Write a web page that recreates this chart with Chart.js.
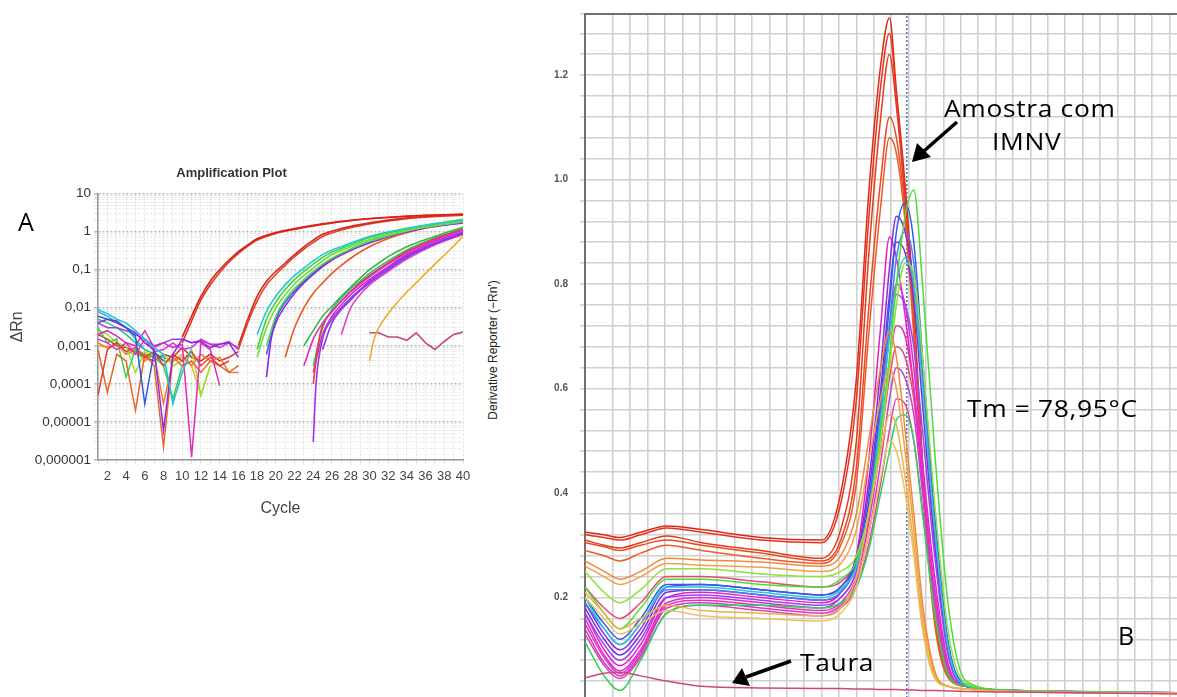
<!DOCTYPE html>
<html>
<head>
<meta charset="utf-8">
<script src="https://cdn.jsdelivr.net/npm/chart.js@4.4.1/dist/chart.umd.min.js"></script>
<style>
    html, body { margin: 0; padding: 0; width: 1177px; height: 697px; overflow: hidden; background: #fff; }
    canvas { position: absolute; }
    #ampChart { left: 0; top: 150px; }
    #meltChart { left: 530px; top: 0; }
    .lbl { position: absolute; font-family: "Open Sans", sans-serif; color: #000; white-space: nowrap; line-height: 1; }
    .note { font-size: 24px; letter-spacing: 0.6px; transform: scaleX(1.1); transform-origin: left center; }
    .side { position: absolute; left: 493px; top: 350px; transform: translate(-50%, -50%) rotate(-90deg);
            font-family: "Liberation Sans", Arial, sans-serif; font-size: 12px; color: #222; white-space: nowrap; }
    svg { position: absolute; left: 0; top: 0; }
</style>
</head>
<body>
<canvas id="ampChart" width="480" height="370"></canvas>
<canvas id="meltChart" width="732" height="704"></canvas>

<div class="lbl" style="left:18px; top:209px; font-size:25px;">A</div>
<div class="side">Derivative Reporter (−Rn')</div>
<div class="lbl note" style="left:944px; top:96px;">Amostra com</div>
<div class="lbl note" style="left:992px; top:129px;">IMNV</div>
<div class="lbl note" style="left:967px; top:396px;">Tm = 78,95°C</div>
<div class="lbl note" style="left:800px; top:650px;">Taura</div>
<div class="lbl" style="left:1118px; top:623px; font-size:25px;">B</div>

<svg width="1177" height="697">
    <line x1="957" y1="122" x2="924" y2="151" stroke="#000" stroke-width="3.5"/>
    <polygon points="912,162 917,143 931,157" fill="#000"/>
    <line x1="791" y1="661" x2="746" y2="677" stroke="#000" stroke-width="3.5"/>
    <polygon points="732,683 742,668 750,686" fill="#000"/>
</svg>

<script>
// Painel A - Amplification Plot (ciclo, ΔRn)
const yDecades = [0.000001, 0.00001, 0.0001, 0.001, 0.01, 0.1, 1, 10];
const yDecadeLabels = ['0,000001', '0,00001', '0,0001', '0,001', '0,01', '0,1', '1', '10'];

const ampRed1 = [[10,0.0017],[11,0.006],[12,0.02],[13,0.05],[14,0.1],[15,0.18],[16,0.3],[17,0.45],[18,0.65],[19,0.8],[20,0.95],[22,1.2],[25,1.6],[28,2.0],[32,2.4],[36,2.7],[40,2.9]];
const ampRed2 = [[10,0.0012],[11,0.0045],[12,0.016],[13,0.04],[14,0.085],[15,0.16],[16,0.27],[17,0.42],[18,0.6],[19,0.75],[20,0.9],[22,1.15],[25,1.55],[28,1.95],[32,2.35],[36,2.65],[40,2.8]];
const ampRed3 = [[16,0.001],[17,0.005],[18,0.02],[19,0.05],[20,0.09],[21,0.15],[22,0.25],[23,0.4],[24,0.6],[25,0.85],[27,1.2],[30,1.7],[34,2.3],[37,2.6],[40,2.8]];
const ampRed4 = [[16,0.0008],[17,0.004],[18,0.015],[19,0.04],[20,0.075],[21,0.13],[22,0.22],[23,0.35],[24,0.52],[25,0.75],[27,1.1],[30,1.6],[34,2.2],[37,2.5],[40,2.7]];
const ampCyan = [[18,0.002],[19,0.008],[20,0.02],[21,0.04],[22,0.07],[23,0.11],[24,0.17],[25,0.25],[26,0.33],[28,0.5],[30,0.75],[33,1.1],[36,1.5],[40,2.0]];
const ampGreen1 = [[18,0.0008],[19,0.005],[20,0.014],[21,0.03],[22,0.055],[23,0.09],[24,0.14],[25,0.21],[26,0.29],[28,0.45],[30,0.7],[33,1.05],[36,1.45],[40,2.1]];
const ampGreen2 = [[18,0.0005],[19,0.003],[20,0.01],[21,0.022],[22,0.042],[23,0.07],[24,0.11],[25,0.17],[26,0.25],[28,0.4],[30,0.62],[33,0.95],[36,1.35],[40,1.9]];
const ampGreen3 = [[19,0.001],[20,0.006],[21,0.016],[22,0.032],[23,0.055],[24,0.09],[25,0.14],[26,0.2],[28,0.35],[30,0.55],[33,0.9],[36,1.3],[40,1.8]];
const ampPurple1 = [[19,0.00015],[19.5,0.0015],[20,0.004],[21,0.011],[22,0.024],[23,0.045],[24,0.075],[25,0.12],[26,0.18],[28,0.32],[30,0.5],[33,0.85],[36,1.25],[40,1.7]];
const ampBlue = [[19,0.0006],[20,0.005],[21,0.014],[22,0.028],[23,0.05],[24,0.08],[25,0.13],[26,0.19],[28,0.34],[30,0.55],[33,0.9],[36,1.3],[40,1.75]];
const ampOrange = [[21,0.0005],[22,0.003],[23,0.01],[24,0.024],[25,0.045],[26,0.08],[27,0.13],[28,0.2],[30,0.4],[33,0.8],[36,1.25],[40,1.9]];
const ampGreen4 = [[23,0.001],[24,0.0025],[25,0.006],[26,0.011],[27,0.02],[28,0.035],[29,0.06],[30,0.1],[31,0.15],[32,0.22],[34,0.4],[37,0.75],[40,1.3]];
const ampMagenta1 = [[23,0.0003],[24,0.0015],[25,0.004],[26,0.008],[27,0.015],[28,0.026],[29,0.042],[30,0.065],[32,0.14],[34,0.28],[37,0.6],[40,1.1]];
const ampPurple2 = [[24,0.000003],[24.3,0.0001],[25,0.0015],[26,0.005],[27,0.01],[28,0.018],[29,0.03],[30,0.05],[32,0.11],[34,0.23],[37,0.5],[40,0.95]];
const ampRed5 = [[24,0.0001],[24.5,0.001],[25,0.0035],[26,0.008],[27,0.015],[28,0.027],[29,0.045],[30,0.07],[32,0.15],[34,0.3],[37,0.65],[40,1.15]];
const ampMagenta2 = [[24,0.0002],[25,0.002],[26,0.006],[27,0.012],[28,0.022],[29,0.036],[30,0.056],[32,0.12],[34,0.25],[37,0.55],[40,1.0]];
const ampPurple3 = [[25,0.0008],[26,0.004],[27,0.009],[28,0.016],[29,0.028],[30,0.045],[32,0.1],[34,0.21],[37,0.48],[40,0.9]];
const ampGreen5 = [[24,0.0003],[25,0.003],[26,0.009],[27,0.018],[28,0.032],[29,0.05],[30,0.08],[32,0.17],[34,0.33],[37,0.68],[40,1.2]];
const ampMagenta3 = [[27,0.002],[28,0.01],[29,0.022],[30,0.04],[32,0.09],[34,0.19],[37,0.45],[40,0.85]];
const ampYellow = [[30,0.0004],[30.5,0.0015],[31,0.003],[32,0.007],[33,0.014],[34,0.026],[35,0.045],[36,0.08],[37,0.14],[38,0.24],[39,0.42],[40,0.75]];
const ampPink = [[30,0.0022],[31,0.0022],[32,0.0017],[33,0.0017],[34,0.0014],[35,0.0022],[36,0.0012],[37,0.0008],[38,0.0013],[39,0.002],[40,0.0023]];

// linha de base (ruído), a partir do ciclo 1
const noiseCyan = [0.009, 0.007, 0.005, 0.004, 0.0025, 0.0015, 0.0009, 0.0006, 0.00003, 0.0002, 0.0008];
const noiseBlue = [0.006, 0.005, 0.0045, 0.003, 0.0018, 0.00003, 0.0007, 0.0004];
const noisePurple = [0.004, 0.005, 0.004, 0.003, 0.0022, 0.0012, 0.0008, 0.000006, 0.0006, 0.0015, 0.0012, 0.0013, 0.0009, 0.0011, 0.0012, 0.0005];
const noiseMagenta = [0.002, 0.0025, 0.0018, 0.0012, 0.001, 0.0025, 0.0009, 0.0012, 0.0009, 0.0011, 0.0000012, 0.0012, 0.0008, 0.00009];
const noiseMagenta2 = [0.0015, 0.0012, 0.0008, 0.0012, 0.0006, 0.0015, 0.0007, 0.0008, 0.0012, 0.0008, 0.0009, 0.0015, 0.0011, 0.0009, 0.0012, 0.0009];
const noiseRed = [0.00005, 0.0008, 0.0012, 0.0007, 0.0009, 0.0005, 0.0007, 0.0003, 0.0006, 0.0004, 0.0007, 0.0003, 0.0005, 0.0003, 0.0004];
const noiseOrange = [0.0008, 0.00006, 0.0006, 0.0004, 0.00002, 0.0006, 0.0003, 0.0000022, 0.0005, 0.0003, 0.0004, 0.0002, 0.0004, 0.0003, 0.0002, 0.0003];
const noiseGreen = [0.003, 0.0012, 0.0015, 0.00015, 0.0008, 0.0006, 0.0005, 0.0003, 0.00004, 0.0003];
const noiseLime = [0.0025, 0.002, 0.0012, 0.001, 0.0002, 0.0007, 0.0005, 0.0006, 0.0003, 0.0004, 0.0008, 0.00005, 0.0003];
const noiseOrange2 = [0.0012, 0.0009, 0.0011, 0.0006, 0.0008, 0.0004, 0.0006, 0.00003, 0.0004, 0.0005, 0.0003, 0.0006, 0.0004, 0.0005, 0.0002, 0.0002];
const noiseRed2 = [0.002, 0.0015, 0.001, 0.0009, 0.0007, 0.0005, 0.0004, 0.0006, 0.0005, 0.0009, 0.0005, 0.0004, 0.0006, 0.0004, 0.0005, 0.0007];
const noiseCyan2 = [0.008, 0.006, 0.004, 0.003, 0.0015, 0.0008];
const noiseYellow = [0.001, 0.0009, 0.0012, 0.0007, 0.0006, 0.0005, 0.0006, 0.0004, 0.0004, 0.0006, 0.0003, 0.00005, 0.0003];
const noisePurple2 = [0.004, 0.003, 0.003, 0.0025, 0.002, 0.0015, 0.001, 0.0012, 0.0015, 0.0015, 0.0012, 0.0014, 0.0011, 0.0011, 0.0013, 0.0008];
const noiseGreen2 = [0.005, 0.004, 0.003, 0.002, 0.0012, 0.0008, 0.0006, 0.0005, 0.0004];

// Painel B - curva de melting (temperatura, -dF/dT)
const meltTemps = [69.7, 70.25, 70.7, 71.3, 72.05, 73.05, 74.75, 76.5, 77.05, 77.5, 77.85, 78.2, 78.45, 78.65, 78.9, 79.15, 79.4, 79.75, 80.15, 80.65, 81.95, 89.1];
const tmValue = 78.95;
const yLabelsB = [0.2, 0.4, 0.6, 0.8, 1.0, 1.2];

const meltRed1 = [0.325, 0.32, 0.315, 0.325, 0.337, 0.33, 0.315, 0.31, 0.4, 0.62, 0.97, 1.22, 1.31, 1.17, 0.99, 0.76, 0.46, 0.17, 0.05, 0.03, 0.022, 0.016];
const meltRed2 = [0.32, 0.315, 0.31, 0.32, 0.333, 0.325, 0.31, 0.305, 0.38, 0.58, 0.92, 1.18, 1.28, 1.16, 0.97, 0.74, 0.45, 0.16, 0.05, 0.03, 0.022, 0.016];
const meltRed3 = [0.31, 0.3, 0.295, 0.305, 0.318, 0.305, 0.29, 0.275, 0.33, 0.5, 0.85, 1.12, 1.24, 1.14, 0.96, 0.74, 0.45, 0.16, 0.05, 0.03, 0.022, 0.016];
const meltRed4 = [0.305, 0.297, 0.29, 0.3, 0.31, 0.3, 0.285, 0.27, 0.31, 0.45, 0.75, 1.0, 1.12, 1.08, 0.94, 0.72, 0.44, 0.16, 0.05, 0.03, 0.022, 0.016];
const meltRed5 = [0.29, 0.28, 0.27, 0.285, 0.3, 0.29, 0.275, 0.265, 0.3, 0.42, 0.7, 0.95, 1.08, 1.05, 0.92, 0.7, 0.42, 0.15, 0.045, 0.03, 0.022, 0.016];
const meltOrange1 = [0.27, 0.25, 0.235, 0.25, 0.275, 0.272, 0.268, 0.26, 0.28, 0.36, 0.5, 0.64, 0.71, 0.66, 0.52, 0.36, 0.19, 0.06, 0.03, 0.025, 0.02, 0.016];
const meltOrange2 = [0.26, 0.24, 0.225, 0.24, 0.265, 0.262, 0.258, 0.25, 0.265, 0.33, 0.46, 0.58, 0.64, 0.6, 0.48, 0.33, 0.17, 0.055, 0.03, 0.025, 0.02, 0.016];
const meltYellow1 = [0.21, 0.17, 0.14, 0.16, 0.185, 0.175, 0.17, 0.165, 0.18, 0.24, 0.36, 0.48, 0.55, 0.53, 0.43, 0.3, 0.15, 0.05, 0.03, 0.025, 0.02, 0.016];
const meltYellow2 = [0.2, 0.16, 0.13, 0.15, 0.175, 0.165, 0.16, 0.155, 0.17, 0.22, 0.32, 0.43, 0.5, 0.48, 0.4, 0.28, 0.14, 0.045, 0.03, 0.025, 0.02, 0.016];
const meltGreen1 = [0.22, 0.17, 0.14, 0.18, 0.235, 0.235, 0.225, 0.22, 0.235, 0.27, 0.36, 0.52, 0.66, 0.8, 0.93, 0.98, 0.8, 0.48, 0.18, 0.04, 0.022, 0.016];
const meltLime = [0.25, 0.21, 0.19, 0.215, 0.255, 0.255, 0.245, 0.24, 0.25, 0.28, 0.36, 0.5, 0.64, 0.76, 0.84, 0.82, 0.66, 0.38, 0.13, 0.035, 0.022, 0.016];
const meltGreen2 = [0.115, 0.05, 0.022, 0.08, 0.17, 0.185, 0.185, 0.18, 0.19, 0.22, 0.29, 0.4, 0.48, 0.54, 0.55, 0.5, 0.36, 0.17, 0.05, 0.03, 0.022, 0.016];
const meltBlue1 = [0.2, 0.15, 0.12, 0.16, 0.225, 0.225, 0.215, 0.205, 0.22, 0.27, 0.38, 0.58, 0.76, 0.9, 0.955, 0.88, 0.66, 0.36, 0.11, 0.035, 0.022, 0.016];
const meltBlue2 = [0.19, 0.14, 0.11, 0.15, 0.215, 0.215, 0.205, 0.195, 0.21, 0.26, 0.36, 0.55, 0.72, 0.85, 0.9, 0.84, 0.63, 0.34, 0.1, 0.033, 0.022, 0.016];
const meltPurple1 = [0.19, 0.13, 0.1, 0.14, 0.22, 0.225, 0.215, 0.205, 0.22, 0.28, 0.42, 0.64, 0.83, 0.93, 0.9, 0.8, 0.6, 0.32, 0.1, 0.033, 0.022, 0.016];
const meltPurple2 = [0.18, 0.12, 0.09, 0.13, 0.21, 0.215, 0.205, 0.195, 0.21, 0.27, 0.4, 0.6, 0.78, 0.88, 0.86, 0.77, 0.57, 0.3, 0.09, 0.032, 0.022, 0.016];
const meltPurple3 = [0.17, 0.11, 0.08, 0.12, 0.2, 0.205, 0.195, 0.185, 0.2, 0.25, 0.36, 0.54, 0.7, 0.78, 0.76, 0.68, 0.52, 0.28, 0.085, 0.03, 0.022, 0.016];
const meltMagenta1 = [0.17, 0.1, 0.07, 0.11, 0.2, 0.21, 0.2, 0.19, 0.21, 0.28, 0.46, 0.72, 0.89, 0.85, 0.74, 0.6, 0.42, 0.2, 0.06, 0.03, 0.022, 0.016];
const meltMagenta2 = [0.16, 0.09, 0.06, 0.1, 0.19, 0.2, 0.19, 0.18, 0.2, 0.25, 0.36, 0.56, 0.72, 0.8, 0.76, 0.64, 0.46, 0.24, 0.07, 0.03, 0.022, 0.016];
const meltMagenta3 = [0.15, 0.085, 0.055, 0.095, 0.185, 0.195, 0.185, 0.175, 0.19, 0.24, 0.34, 0.5, 0.65, 0.72, 0.7, 0.6, 0.44, 0.22, 0.065, 0.03, 0.022, 0.016];
const meltMagenta4 = [0.14, 0.075, 0.05, 0.09, 0.18, 0.19, 0.18, 0.17, 0.185, 0.23, 0.32, 0.46, 0.58, 0.64, 0.62, 0.55, 0.4, 0.2, 0.06, 0.03, 0.022, 0.016];
const meltMagenta5 = [0.13, 0.07, 0.045, 0.085, 0.17, 0.185, 0.175, 0.165, 0.18, 0.22, 0.3, 0.42, 0.52, 0.58, 0.57, 0.5, 0.37, 0.18, 0.055, 0.03, 0.022, 0.016];
const meltCyan = [0.2, 0.14, 0.11, 0.15, 0.22, 0.22, 0.21, 0.2, 0.215, 0.26, 0.36, 0.54, 0.7, 0.8, 0.85, 0.8, 0.6, 0.33, 0.1, 0.033, 0.022, 0.016];
const meltRose = [0.22, 0.18, 0.16, 0.19, 0.24, 0.24, 0.23, 0.22, 0.23, 0.27, 0.36, 0.5, 0.62, 0.68, 0.66, 0.58, 0.42, 0.2, 0.06, 0.03, 0.022, 0.016];
const meltTaura = [0.046, 0.055, 0.057, 0.05, 0.04, 0.03, 0.027, 0.026, 0.026, 0.025, 0.025, 0.024, 0.024, 0.024, 0.023, 0.023, 0.022, 0.022, 0.021, 0.02, 0.019, 0.014];

document.addEventListener('DOMContentLoaded', function() {
    // curvas do painel A com as cores
    const ampSeries = [
        [noiseCyan, '#22c3d6'], [noiseBlue, '#2f57d8'], [noisePurple, '#8d2be0'], [noiseMagenta, '#df2bb5'],
        [noiseMagenta2, '#e030d0'], [noiseRed, '#e0402a'], [noiseOrange, '#e8642a'], [noiseGreen, '#3ccf4a'],
        [noiseLime, '#9ae03a'], [noiseOrange2, '#ee7d32'], [noiseRed2, '#d9302a'], [noiseCyan2, '#2ab8e0'],
        [noiseYellow, '#e8b83a'], [noisePurple2, '#a03ae8'], [noiseGreen2, '#27c47a']
    ];
    const ampCurves = [
        [ampGreen4, '#35b84a'], [ampMagenta1, '#e02cbc'], [ampPurple2, '#9a30e8'], [ampRed5, '#e0403a'],
        [ampMagenta2, '#d22ad0'], [ampPurple3, '#8a38e0'], [ampGreen5, '#3cc060'], [ampMagenta3, '#e040c8'],
        [ampCyan, '#25c8d8'], [ampGreen1, '#3fd23a'], [ampGreen2, '#7ad83a'], [ampGreen3, '#4ad850'],
        [ampPurple1, '#8c28e6'], [ampBlue, '#3766dc'], [ampOrange, '#ea5a22'],
        [ampRed1, '#d81f18'], [ampRed2, '#e2331e'], [ampRed3, '#d82a22'], [ampRed4, '#e0442c'],
        [ampYellow, '#e8b02a']
    ];

    const ampDatasets = [];
    ampSeries.forEach(function(s) {
        ampDatasets.push({
            data: s[0].map((v, i) => ({ x: i + 1, y: v })),
            borderColor: s[1], borderWidth: 1.5, tension: 0
        });
    });
    ampCurves.forEach(function(s) {
        ampDatasets.push({
            data: s[0].map(p => ({ x: p[0], y: p[1] })),
            borderColor: s[1], borderWidth: 1.6, cubicInterpolationMode: 'monotone'
        });
    });
    ampDatasets.push({
        data: ampPink.map(p => ({ x: p[0], y: p[1] })),
        borderColor: '#c8457e', borderWidth: 1.6, tension: 0
    });

    const minorTicks = [];
    yDecades.forEach(function(d, i) {
        minorTicks.push(d);
        if (i < yDecades.length - 1) {
            for (let k = 2; k <= 9; k++) minorTicks.push(d * k);
        }
    });
    const isDecade = v => Math.abs(Math.log10(v) - Math.round(Math.log10(v))) < 1e-6;

    const ampCtx = document.getElementById('ampChart').getContext('2d');
    new Chart(ampCtx, {
        type: 'line',
        data: { datasets: ampDatasets },
        options: {
            responsive: false,
            animation: false,
            events: [],
            layout: { padding: { right: 17, left: 0, bottom: 0 } },
            elements: { point: { radius: 0 }, line: { fill: false } },
            plugins: {
                legend: { display: false },
                tooltip: { enabled: false },
                title: {
                    display: true,
                    text: 'Amplification Plot',
                    color: '#333',
                    font: { family: 'Liberation Sans', size: 13, weight: 'bold' },
                    padding: { top: 16, bottom: 12 }
                }
            },
            scales: {
                x: {
                    type: 'linear', min: 1, max: 40,
                    afterFit: function(scale) { scale.height = 60; scale.paddingLeft = 0; scale.paddingRight = 0; },
                    ticks: {
                        stepSize: 1, autoSkip: false, maxRotation: 0, padding: 5,
                        color: '#444', font: { family: 'Liberation Sans', size: 13 },
                        callback: v => (v % 2 === 0 ? String(v) : '')
                    },
                    grid: { color: 'rgba(170,170,170,0.35)', lineWidth: 1, tickLength: 4 },
                    border: { color: '#999', width: 1.5, dash: [2, 2] },
                    title: { display: true, text: 'Cycle', color: '#444', font: { family: 'Liberation Sans', size: 16 }, padding: { top: 4, bottom: 2 } }
                },
                y: {
                    type: 'logarithmic', min: 0.000001, max: 10,
                    afterFit: function(scale) { scale.width = 98; },
                    afterBuildTicks: function(scale) {
                        scale.ticks = minorTicks.map(v => ({ value: v, major: isDecade(v) }));
                    },
                    ticks: {
                        autoSkip: false, padding: 3,
                        color: '#333', font: { family: 'Liberation Sans', size: 13.5 },
                        callback: function(v) {
                            if (!isDecade(v)) return '';
                            const i = yDecades.findIndex(d => Math.abs(Math.log10(d) - Math.log10(v)) < 1e-6);
                            return i >= 0 ? yDecadeLabels[i] : '';
                        }
                    },
                    grid: {
                        color: ctx => (ctx.tick && isDecade(ctx.tick.value) ? 'rgba(140,140,140,0.6)' : 'rgba(180,180,180,0.35)'),
                        lineWidth: ctx => (ctx.tick && isDecade(ctx.tick.value) ? 1.5 : 1),
                        tickLength: 4
                    },
                    border: { color: '#999', width: 1.5, dash: [2, 2] },
                    title: { display: true, text: 'ΔRn', color: '#444', font: { family: 'Liberation Sans', size: 16 }, padding: { top: 8, bottom: 0 } }
                }
            }
        }
    });

    // curvas do painel B
    const meltSeries = [
        [meltYellow1, '#e9b24a'], [meltYellow2, '#efc060'],
        [meltOrange1, '#f08a3a'], [meltOrange2, '#f3a048'],
        [meltGreen2, '#2ed25a'], [meltLime, '#8ee23c'], [meltGreen1, '#4ade38'],
        [meltCyan, '#2cc3da'], [meltBlue2, '#4a7ef0'], [meltBlue1, '#2f5de2'],
        [meltPurple3, '#9c42f0'], [meltPurple2, '#7b30dc'], [meltPurple1, '#8a2be2'],
        [meltMagenta5, '#e043a8'], [meltMagenta4, '#c83cd4'], [meltMagenta3, '#f02eb4'],
        [meltMagenta2, '#d72adc'], [meltMagenta1, '#e81fc0'], [meltRose, '#e44a72'],
        [meltRed5, '#ee5a2a'], [meltRed4, '#e84a22'], [meltRed3, '#e33c1e'], [meltRed2, '#e8321c'], [meltRed1, '#dc2a18']
    ];
    const meltDatasets = meltSeries.map(s => ({
        data: s[0].map((v, i) => ({ x: meltTemps[i], y: v })),
        borderColor: s[1], borderWidth: 1.5, cubicInterpolationMode: 'monotone'
    }));
    meltDatasets.unshift({
        data: meltTaura.map((v, i) => ({ x: meltTemps[i], y: v })),
        borderColor: '#d0457f', borderWidth: 1.5, cubicInterpolationMode: 'monotone'
    });
    meltDatasets.push({
        data: [{ x: tmValue, y: 0 }, { x: tmValue, y: 1.32 }],
        borderColor: '#2f4f9f', borderWidth: 1.2, borderDash: [2, 2], tension: 0
    });

    const meltCtx = document.getElementById('meltChart').getContext('2d');
    new Chart(meltCtx, {
        type: 'line',
        data: { datasets: meltDatasets },
        options: {
            responsive: false,
            animation: false,
            events: [],
            layout: { padding: { top: 14, bottom: 2, right: 2, left: 0 } },
            elements: { point: { radius: 0 }, line: { fill: false } },
            plugins: { legend: { display: false }, tooltip: { enabled: false } },
            scales: {
                x: {
                    type: 'linear', position: 'top', min: 69.7, max: 89.1,
                    afterFit: function(scale) { scale.height = 0; scale.paddingLeft = 0; scale.paddingRight = 0; },
                    ticks: { display: false, stepSize: 0.5, autoSkip: false },
                    grid: { color: '#d0d0d0', lineWidth: 1.6, drawTicks: false },
                    border: { color: '#707070', width: 2 }
                },
                y: {
                    min: 0, max: 1.317,
                    afterFit: function(scale) { scale.width = 55; scale.paddingTop = 0; scale.paddingBottom = 0; },
                    ticks: {
                        stepSize: 0.04, autoSkip: false, padding: 12,
                        color: '#555', font: { family: 'Liberation Sans', size: 10, weight: 'bold' },
                        callback: function(v) {
                            const hit = yLabelsB.find(t => Math.abs(t - v) < 1e-6);
                            return hit !== undefined ? hit.toFixed(1) : '';
                        }
                    },
                    grid: { color: '#d0d0d0', lineWidth: 1.6, tickLength: 5 },
                    border: { color: '#707070', width: 2 }
                }
            }
        }
    });
});
</script>
</body>
</html>
